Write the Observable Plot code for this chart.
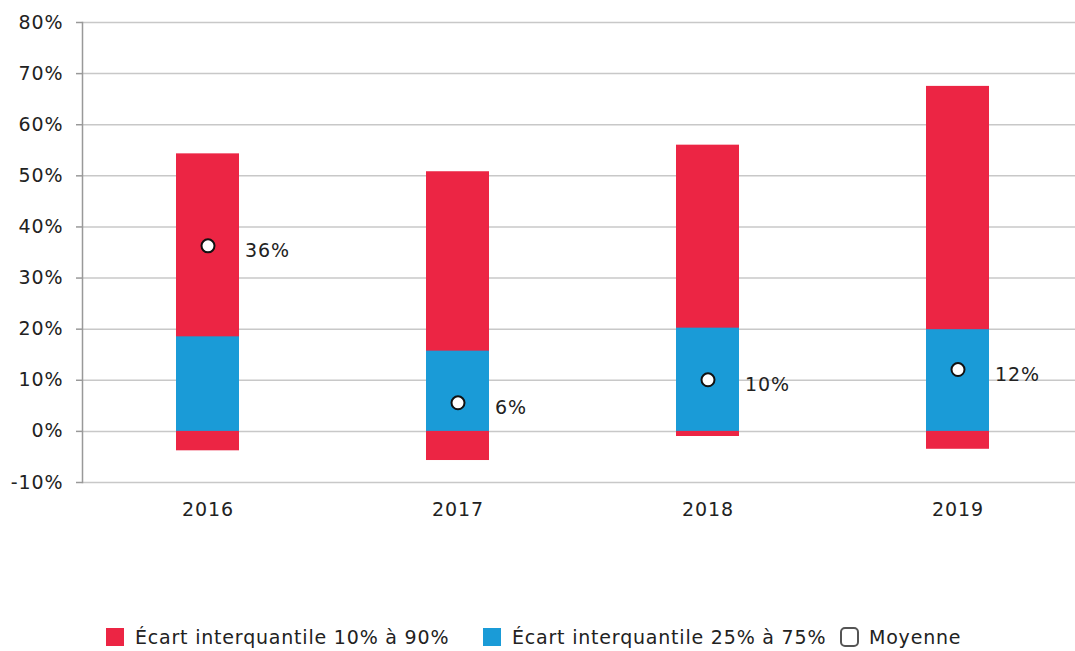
<!DOCTYPE html>
<html>
<head>
<meta charset="utf-8">
<script src="https://cdn.jsdelivr.net/npm/d3@7"></script>
<script src="https://cdn.jsdelivr.net/npm/@observablehq/plot@0.6"></script>
<style>
  html, body { margin: 0; padding: 0; background: #fff; }
  body { width: 1075px; height: 651px; overflow: hidden; font-family: "DejaVu Sans", sans-serif; color: #222; }
  #chart svg { display: block; }
  #chart svg text { letter-spacing: 0.9px; }
  #legend { position: relative; height: 91px; font-size: 19px; letter-spacing: 0.8px; color: #222; }
  .item { position: absolute; top: 66px; display: flex; align-items: center; white-space: nowrap; }
  .sw { width: 18px; height: 18px; margin-right: 11px; }
  .ring { width: 15px; height: 16px; border: 2px solid #555; border-radius: 5px; margin-right: 10px; box-sizing: content-box; }
</style>
</head>
<body>
<div id="chart"></div>
<div id="legend"></div>
<script>
const years = ["2016", "2017", "2018", "2019"];
const p10 = [-3.8, -5.7, -1.0, -3.5];
const p90 = [54.3, 50.8, 56.0, 67.5];
const p25 = [0, 0, 0, 0];
const p75 = [18.5, 15.7, 20.2, 19.9];
const mean = [36.3, 5.6, 10.1, 12.1];
const meanLabels = ["36%", "6%", "10%", "12%"];
const yTicks = [-10, 0, 10, 20, 30, 40, 50, 60, 70, 80];
const legendLabels = ["Écart interquantile 10% à 90%", "Écart interquantile 25% à 75%", "Moyenne"];

const RED = "#EC2544";
const BLUE = "#1A9BD7";

const data = years.map((year, i) => ({
  year, p10: p10[i], p90: p90[i], p25: p25[i], p75: p75[i], mean: mean[i], label: meanLabels[i]
}));

const chart = Plot.plot({
  width: 1075,
  height: 560,
  marginLeft: 82,
  marginRight: -7,
  marginTop: 22,
  marginBottom: 78,
  style: { fontFamily: "DejaVu Sans, sans-serif", fontSize: "19px", color: "#222", background: "#fff" },
  x: { domain: years, paddingInner: 0.75, paddingOuter: 0.375, label: null },
  y: { domain: [-10, 80], label: null },
  marks: [
    Plot.gridY(yTicks, { stroke: "#c8c8c8", strokeOpacity: 1, strokeWidth: 1.5 }),
    Plot.barY(data, { x: "year", y1: "p10", y2: "p90", fill: RED }),
    Plot.barY(data, { x: "year", y1: "p25", y2: "p75", fill: BLUE }),
    Plot.frame({ anchor: "left", stroke: "#999", strokeWidth: 1.5 }),
    Plot.axisY(yTicks, { tickSize: 6, tickPadding: 13, stroke: "#999", strokeWidth: 1.5, tickFormat: d => d + "%", fontSize: 19, fill: "#222", label: null }),
    Plot.axisX({ tickSize: 0, tickPadding: 20, fontSize: 19, fill: "#222", label: null }),
    Plot.dot(data, { x: "year", y: "mean", r: 6.5, fill: "#fff", stroke: "#111", strokeWidth: 2 }),
    Plot.text(data, { x: "year", y: "mean", text: "label", dx: 37, dy: 5, textAnchor: "start", fontSize: 19, fill: "#222" })
  ]
});
document.getElementById("chart").appendChild(chart);

const legend = document.getElementById("legend");
const lefts = [106, 483, 840];
const kinds = [RED, BLUE, null];
legendLabels.forEach((lab, i) => {
  const it = document.createElement("div");
  it.className = "item";
  it.style.left = lefts[i] + "px";
  const sw = document.createElement("span");
  if (kinds[i]) { sw.className = "sw"; sw.style.background = kinds[i]; }
  else { sw.className = "ring"; }
  it.appendChild(sw);
  const t = document.createElement("span");
  t.textContent = lab;
  it.appendChild(t);
  legend.appendChild(it);
});
</script>
</body>
</html>
